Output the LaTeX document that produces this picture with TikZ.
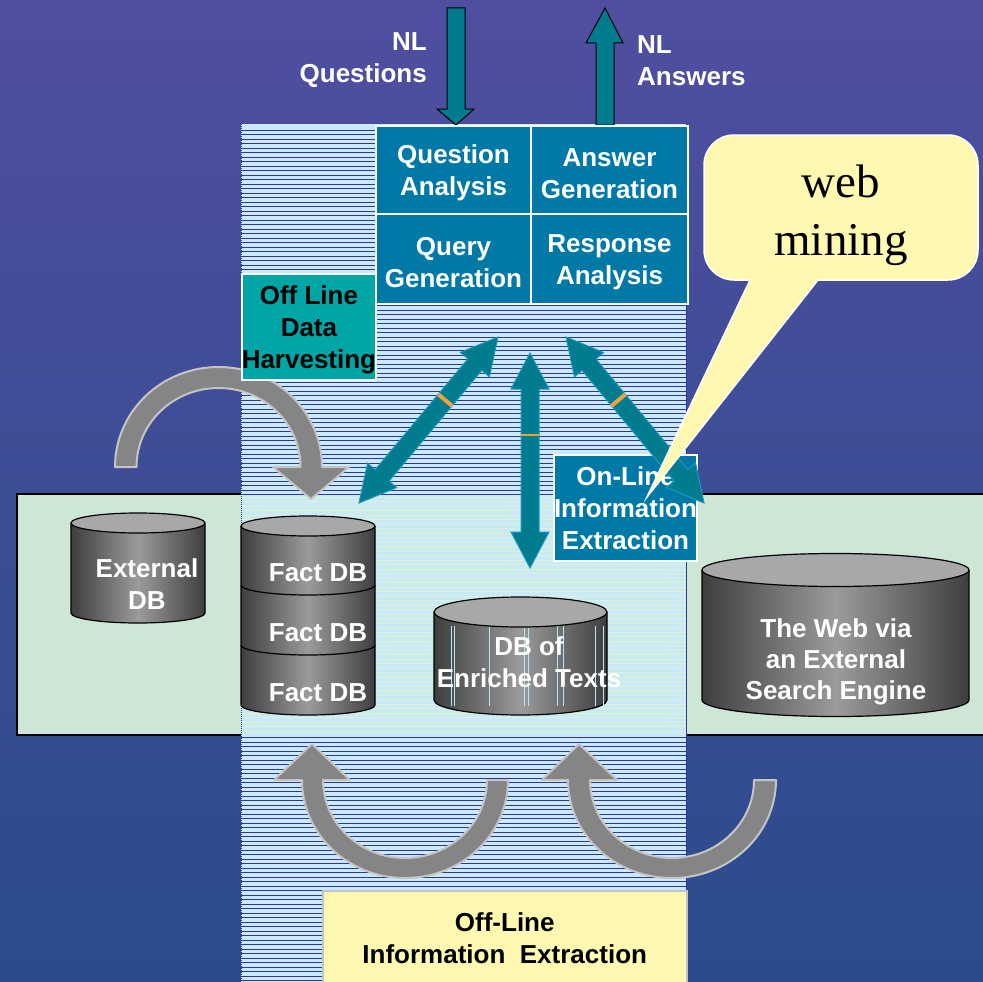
\documentclass[tikz,border=0pt]{standalone}
\usepackage{fontspec}
\setmainfont{Liberation Sans}
\newfontfamily\webfont{Liberation Serif}
\usetikzlibrary{calc}
\definecolor{bgtop}{RGB}{80,78,160}
\definecolor{bgbot}{RGB}{42,76,140}
\definecolor{bandblue}{RGB}{200,234,250}
\definecolor{stripe}{RGB}{52,52,150}
\definecolor{stripelight}{RGB}{226,240,204}
\definecolor{greenband}{RGB}{205,230,214}
\definecolor{boxblue}{RGB}{0,121,167}
\definecolor{boxteal}{RGB}{0,166,166}
\definecolor{arrteal}{RGB}{0,124,142}
\definecolor{arredge}{RGB}{30,150,195}
\definecolor{tickc}{RGB}{240,160,60}
\definecolor{callfill}{RGB}{255,248,176}
\definecolor{grayarr}{RGB}{133,133,133}
\definecolor{grayedge}{RGB}{196,196,196}
\definecolor{cyldark}{RGB}{62,62,62}
\definecolor{cyllight}{RGB}{155,155,155}
\definecolor{cyltopc}{RGB}{168,168,168}
\newcommand\cylseg[6]{%
  \shade[cylshade] (#1,#3) -- (#1,#4) arc(180:0:#5 and #6) -- (#2,#3) -- cycle;
  \draw[cylline] (#1,#3) -- (#1,#4) arc(180:0:#5 and #6) -- (#2,#3);}
\newcommand\cyltopell[4]{\draw[cyltop] (#1,#2) ellipse (#3 and #4);}
\newcommand\dblarrow[2]{%
  \draw[dbl] (#1) -- ($(#1)!36pt!(#2)!19pt!90:(#2)$) -- ($(#1)!36pt!(#2)!9pt!90:(#2)$)
    -- ($(#2)!36pt!(#1)!9pt!-90:(#1)$) -- ($(#2)!36pt!(#1)!19pt!-90:(#1)$) -- (#2)
    -- ($(#2)!36pt!(#1)!19pt!90:(#1)$) -- ($(#2)!36pt!(#1)!9pt!90:(#1)$)
    -- ($(#1)!36pt!(#2)!9pt!-90:(#2)$) -- ($(#1)!36pt!(#2)!19pt!-90:(#2)$) -- cycle;}
\newcommand\arrtick[3]{%
  \draw[tickc, line width=#3] ($(#1)!0.38!(#2)!9pt!90:(#2)$) -- ($(#1)!0.38!(#2)!9pt!-90:(#2)$);}
\newcommand\lowerstrut{\rule{0pt}{25pt}}
\tikzset{
  lblfont/.style={font=\bfseries\fontsize{26}{32}\selectfont},
  wtxt/.style={lblfont, align=center, inner sep=0pt, text=white},
  ktxt/.style={lblfont, align=center, inner sep=0pt, text=black},
  quad/.style={draw=white, line width=2, fill=boxblue, anchor=north west},
  nlarrow/.style={fill=arrteal, draw=black, line width=1},
  dbl/.style={fill=arrteal, draw=arredge, line width=1},
  curved/.style={fill=grayarr, draw=grayedge, line width=2, line join=round},
  cylshade/.style={left color=cyldark, right color=cyldark, middle color=cyllight},
  cylline/.style={draw=black, line width=1.2},
  cyltop/.style={fill=cyltopc, draw=black, line width=1.2},
}
\begin{document}
\begin{tikzpicture}[x=1pt,y=-1pt]
\useasboundingbox (0,0) rectangle (983,982);
% background
\shade[top color=bgtop, bottom color=bgbot] (0,0) rectangle (983,982);
% green band
\draw[fill=greenband, line width=1.5] (17,494) rectangle (1000,735);
% striped band
\fill[bandblue] (241,124) rectangle (686,982);
\foreach \i in {0,...,189} \draw[stripe, line width=0.9] (241,{130+4.5*\i}) -- (686,{130+4.5*\i});
\fill[bandblue] (241,495) rectangle (686,734);
\foreach \i in {0,...,52} \draw[stripelight, line width=0.9] (241,{497+4.5*\i}) -- (686,{497+4.5*\i});
\draw[stripe, line width=0.6, dash pattern=on 1pt off 1pt] (241,124) -- (241,982);
\draw[stripe, line width=0.8] (686,124) -- (686,982);

% NL arrows
\coordinate (qin) at (456,125);
\coordinate (aout) at (605,8);
\draw[nlarrow] (447,8) -- (465,8) -- (465,109) -- (474,109) -- (qin) -- (437,109) -- (447,109) -- cycle;
\draw[nlarrow] (596,125) -- (596,43) -- (586,43) -- (aout) -- (623,43) -- (614,43) -- (614,125) -- cycle;
\node[wtxt, align=right, anchor=east] (nlq) at (427,60) {NL\\Questions};
\node[wtxt, align=left, anchor=west] (nla) at (637,61) {NL\\Answers};

% quad boxes
\node[quad, wtxt, minimum width=155pt, minimum height=88pt] (qa) at (375,125) {\lowerstrut Question\\Analysis};
\node[quad, wtxt, minimum width=157pt, minimum height=88pt] (ag) at (530,125) {\lowerstrut Answer\\Generation};
\node[quad, wtxt, minimum width=155pt, minimum height=90pt] (qg) at (375,213) {\lowerstrut Query\\Generation};
\node[quad, wtxt, minimum width=157pt, minimum height=90pt] (ra) at (530,213) {\lowerstrut Response\\Analysis};

% top-left curved arrow
\draw[curved] (115,467) arc(180:360:103.5 and 100) -- (349,467) -- (311,499) -- (273,467) -- (300.5,467) arc(360:180:82 and 79) -- cycle;

% off line data harvesting
\node[quad, ktxt, line width=1.5, fill=boxteal, minimum width=133pt, minimum height=106pt] (olh) at (241,273) {\lowerstrut Off Line\\Data\\Harvesting};

% cylinders
\cylseg{71}{205}{523}{613}{67}{10}
\cyltopell{138}{523}{67}{10}
\node[wtxt] (extdb) at (147,584) {External\\DB};

\cylseg{241}{375}{645}{705}{67}{10}
\cylseg{241}{375}{585}{645}{67}{10}
\cylseg{241}{375}{526}{585}{67}{10}
\cyltopell{308}{526}{67}{10}
\node[wtxt] (fact1) at (318,573) {Fact DB};
\node[wtxt] (fact2) at (318,633) {Fact DB};
\node[wtxt] (fact3) at (318,693) {Fact DB};

\cylseg{434}{607}{612}{700}{86.5}{15}
\foreach \x in {451,454,489,524,528,557,563,595,603}
  \draw[white!70!cyan, line width=0.7] (\x,626) -- (\x,706);
\cyltopell{520.5}{612}{86.5}{15}
\node[wtxt] (enr) at (529,662) {DB of\\Enriched Texts};

\cylseg{702}{969}{570}{700}{133.5}{16.5}
\cyltopell{835.5}{570}{133.5}{16.5}
\node[wtxt, font=\bfseries\fontsize{26}{31}\selectfont] (webdb) at (836,662) {The Web via\\an External\\Search Engine};

% on-line information extraction
\node[quad, wtxt, minimum width=134pt, minimum height=106pt] (olie) at (553,454) {On-Line\\Information\\Extraction};

% double arrows
\coordinate (tL1) at (498,337); \coordinate (tL2) at (359,503);
\coordinate (tV1) at (530,353); \coordinate (tV2) at (530,568);
\coordinate (tR1) at (566,337); \coordinate (tR2) at (704,503);
\dblarrow{tL1}{tL2}
\dblarrow{tV1}{tV2}
\dblarrow{tR1}{tR2}
\arrtick{tL1}{tL2}{4}
\arrtick{tV1}{tV2}{2}
\arrtick{tR1}{tR2}{4}

% bottom curved arrows
\draw[curved] (508,780) arc(0:180:103 and 98) -- (274,780) -- (312,744) -- (350,780) -- (323,780) arc(180:0:82 and 78) -- cycle;
\draw[curved] (776,780) arc(0:180:104 and 98) -- (542,780) -- (579,744) -- (617,780) -- (590,780) arc(180:0:82 and 78) -- cycle;

% off-line information extraction
\node[ktxt, fill=callfill, draw=grayedge, line width=1.5, minimum width=364pt, minimum height=94pt, anchor=north west] (offie) at (322,890) {Off-Line\\Information\ \ Extraction};

% callout
\draw[fill=callfill, draw=white, line width=1.5] (647,497) -- (750,280) -- (734,280) arc(90:180:30) -- (704,165) arc(180:270:30) -- (948,135) arc(270:360:30) -- (978,250) arc(0:90:30) -- (818,280) -- cycle;
\node[font=\webfont\fontsize{47}{58}\selectfont, align=center, inner sep=0pt] (webmin) at (841,215) {web\\mining};
\end{tikzpicture}
\end{document}
